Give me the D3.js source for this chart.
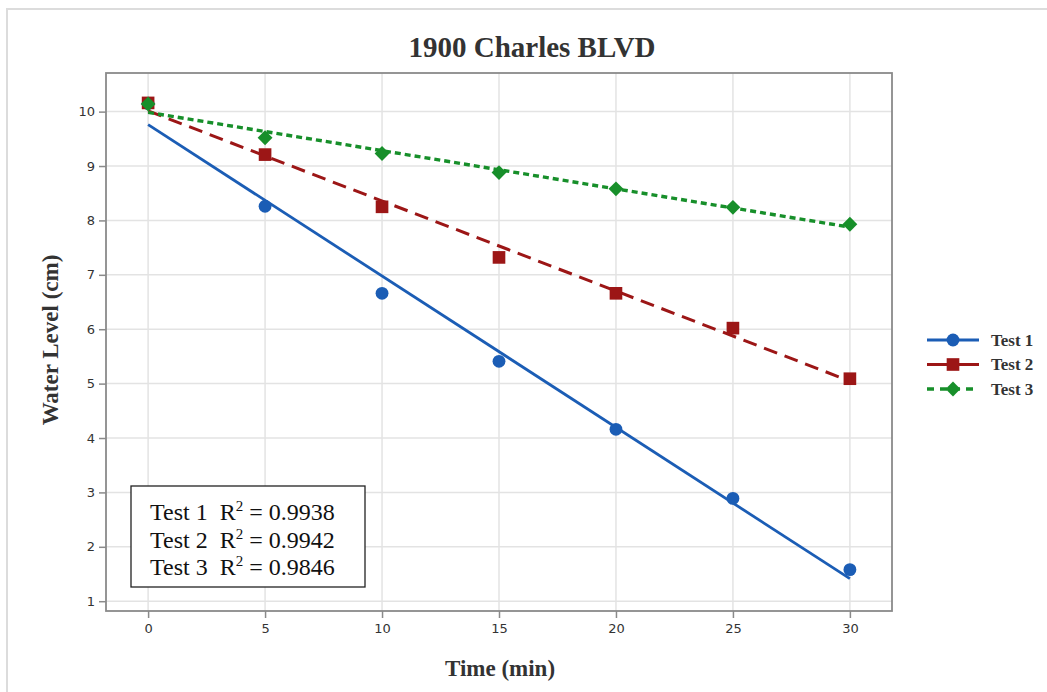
<!DOCTYPE html>
<html>
<head>
<meta charset="utf-8">
<script src="https://cdn.jsdelivr.net/npm/d3@7"></script>
<style>
  html, body { margin: 0; padding: 0; background: #fff; }
  svg { display: block; }
</style>
</head>
<body>
<svg id="chart" width="1047" height="692"></svg>
<script>
// Water level readings at each time step for the three tests
const times = [0, 5, 10, 15, 20, 25, 30];
const test1 = [10.15, 8.26, 6.66, 5.41, 4.16, 2.89, 1.58];
const test2 = [10.16, 9.21, 8.25, 7.32, 6.66, 6.02, 5.09];
const test3 = [10.14, 9.52, 9.23, 8.88, 8.58, 8.24, 7.93];
const seriesNames = ["Test 1", "Test 2", "Test 3"];
const rSquared = ["0.9938", "0.9942", "0.9846"];
const xTicks = [0, 5, 10, 15, 20, 25, 30];
const yTicks = [1, 2, 3, 4, 5, 6, 7, 8, 9, 10];

const colors = ["#1b5db5", "#9c1616", "#178f2a"];
const dashes = [null, "14,8", "6,4"];
const widths = [2.8, 3, 3.4];
// circle, square, and a square turned 45° for the diamond
const symbols = [d3.symbolCircle, d3.symbolSquare, d3.symbolSquare];
const symSizes = [130, 160, 110];
const symRotate = [0, 0, 45];

const svg = d3.select("#chart");

// outer panel border
svg.append("rect").attr("x", 7).attr("y", 9).attr("width", 1060).attr("height", 700)
  .attr("fill", "none").attr("stroke", "#dcdcdc").attr("stroke-width", 2);

const plot = { left: 106, right: 892, top: 73, bottom: 611 };
const x = d3.scaleLinear().domain([-1.8, 31.8]).range([plot.left, plot.right]);
const y = d3.scaleLinear().domain([0.82, 10.71]).range([plot.bottom, plot.top]);

// grid
const grid = svg.append("g");
grid.selectAll(".gx").data(xTicks).join("line")
  .attr("x1", d => x(d)).attr("x2", d => x(d))
  .attr("y1", plot.top).attr("y2", plot.bottom)
  .attr("stroke", "#e3e3e3").attr("stroke-width", 1.5);
grid.selectAll(".gy").data(yTicks).join("line")
  .attr("x1", plot.left).attr("x2", plot.right)
  .attr("y1", d => y(d)).attr("y2", d => y(d))
  .attr("stroke", "#e3e3e3").attr("stroke-width", 1.5);

// axes
const xAxis = svg.append("g").attr("transform", `translate(0,${plot.bottom})`)
  .call(d3.axisBottom(x).tickValues(xTicks).tickSize(7).tickPadding(6));
const yAxis = svg.append("g").attr("transform", `translate(${plot.left},0)`)
  .call(d3.axisLeft(y).tickValues(yTicks).tickSize(7).tickPadding(4));
[xAxis, yAxis].forEach(g => {
  g.select(".domain").remove();
  g.selectAll(".tick line").attr("stroke", "#8a8a8a").attr("stroke-width", 1.5);
  g.selectAll(".tick text").attr("fill", "#333").attr("font-family", "'DejaVu Sans', sans-serif")
    .attr("font-size", 13);
});

// plot frame
svg.append("rect").attr("x", plot.left).attr("y", plot.top)
  .attr("width", plot.right - plot.left).attr("height", plot.bottom - plot.top)
  .attr("fill", "none").attr("stroke", "#8a8a8a").attr("stroke-width", 1.8);

// least-squares fit line for each test, drawn with its markers
const allSeries = [test1, test2, test3];
function fit(vals) {
  const mx = d3.mean(times), my = d3.mean(vals);
  let sxy = 0, sxx = 0;
  times.forEach((t, i) => { sxy += (t - mx) * (vals[i] - my); sxx += (t - mx) ** 2; });
  const b = sxy / sxx;
  return { a: my - b * mx, b };
}
const marker = i => d3.symbol().type(symbols[i]).size(symSizes[i]);
allSeries.forEach((vals, i) => {
  const f = fit(vals);
  const t0 = d3.min(times), t1 = d3.max(times);
  svg.append("line")
    .attr("x1", x(t0)).attr("y1", y(f.a + f.b * t0))
    .attr("x2", x(t1)).attr("y2", y(f.a + f.b * t1))
    .attr("stroke", colors[i]).attr("stroke-width", widths[i])
    .attr("stroke-dasharray", dashes[i]);
  svg.append("g").selectAll("path").data(times).join("path")
    .attr("transform", (t, j) => `translate(${x(t)},${y(vals[j])}) rotate(${symRotate[i]})`)
    .attr("d", marker(i))
    .attr("fill", colors[i]);
});

// title and axis labels
const serif = "'Liberation Serif', 'Times New Roman', serif";
svg.append("text").attr("x", 532).attr("y", 57).attr("text-anchor", "middle")
  .attr("font-family", serif).attr("font-weight", "bold").attr("font-size", 29)
  .attr("fill", "#333").text("1900 Charles BLVD");
svg.append("text").attr("x", 500).attr("y", 676).attr("text-anchor", "middle")
  .attr("font-family", serif).attr("font-weight", "bold").attr("font-size", 23)
  .attr("fill", "#333").text("Time (min)");
svg.append("text").attr("transform", "translate(58,340) rotate(-90)").attr("text-anchor", "middle")
  .attr("font-family", serif).attr("font-weight", "bold").attr("font-size", 23)
  .attr("fill", "#333").text("Water Level (cm)");

// legend
const legend = svg.append("g");
seriesNames.forEach((name, i) => {
  const ly = 340 + i * 24.5;
  legend.append("line").attr("x1", 927).attr("x2", 979).attr("y1", ly).attr("y2", ly)
    .attr("stroke", colors[i]).attr("stroke-width", widths[i])
    .attr("stroke-dasharray", i === 2 ? "7,6" : null);
  legend.append("path").attr("transform", `translate(953,${ly}) rotate(${symRotate[i]})`)
    .attr("d", marker(i)).attr("fill", colors[i]);
  legend.append("text").attr("x", 991).attr("y", ly + 5.5)
    .attr("font-family", serif).attr("font-weight", "bold").attr("font-size", 17)
    .attr("fill", "#333").text(name);
});

// R² annotation box
svg.append("rect").attr("x", 131).attr("y", 486).attr("width", 234).attr("height", 101)
  .attr("fill", "#fff").attr("stroke", "#222").attr("stroke-width", 1.3);
seriesNames.forEach((name, i) => {
  const t = svg.append("text").attr("x", 150).attr("y", 520 + i * 27.5)
    .attr("font-family", serif).attr("font-size", 24).attr("fill", "#111");
  t.append("tspan").text(name + "\u00a0\u00a0R");
  t.append("tspan").attr("dy", -9).attr("font-size", 15).text("2");
  t.append("tspan").attr("dy", 9).text(" = " + rSquared[i]);
});
</script>
</body>
</html>
